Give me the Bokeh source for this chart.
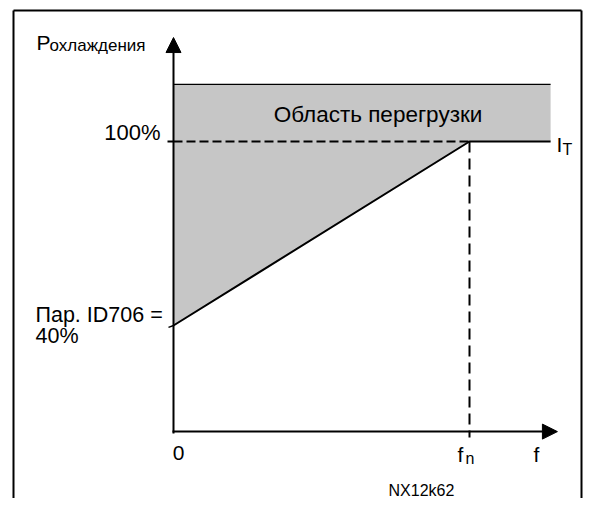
from bokeh.plotting import figure
from bokeh.models import Range1d, Arrow, NormalHead
from bokeh.core.properties import value
from bokeh.embed import file_html
from bokeh.resources import INLINE

# ---- data (schematic) ----
freq = [0.0, 1.0, 1.274]          # f in units of f_n (0, f_n, end of limit line)
cooling = [40, 100, 100]          # P_cooling in % (ID706 = 40 %, full at f_n)
overload_top = 118.6              # top of the overload area (schematic)
axis_base = 5.4                   # level of the f axis (schematic)
y_arrow_tip = 133.9
x_arrow_tip = 1.297

# ---- pixel helpers for decorative layout (reference picture pixels) ----
def X(px):
    return (px - 173.0) / 296.0

def Y(py):
    return (447.67 - py) / 3.0667

OFF = 0
W, H = 583, 498
p = figure(width=W, height=H, output_backend="svg", toolbar_location=None,
           x_range=Range1d(X(OFF), X(OFF + W)), y_range=Range1d(Y(OFF + H), Y(OFF)),
           x_axis_location=None, y_axis_location=None, min_border=0)
p.grid.visible = False
p.outline_line_color = None
p.background_fill_color = "white"
p.border_fill_color = "white"

FONT = value("Liberation Sans")

# frame (left, top, right)
p.line([X(13), X(13)], [Y(520), Y(10)], line_color="black", line_width=2)
p.line([X(13), X(581)], [Y(10), Y(10)], line_color="black", line_width=2)
p.line([X(581), X(581)], [Y(10), Y(520)], line_color="black", line_width=2)

# overload area
px = [freq[0], freq[0], freq[2], freq[2], freq[1]]
py = [cooling[0], overload_top, overload_top, cooling[2], cooling[1]]
p.patch(px, py, fill_color="#c6c6c6", line_color=None)
p.line([freq[0], freq[2]], [overload_top, overload_top], line_color="black", line_width=1.3)

# dashed guides
p.line([X(167), freq[0]], [cooling[1], cooling[1]], line_color="black", line_width=2)
p.line([freq[0], freq[1]], [cooling[1], cooling[1]], line_color="black",
       line_width=2, line_dash="9 4")
p.line([freq[1], freq[1]], [cooling[1], Y(437)], line_color="black",
       line_width=2, line_dash="11 6")
# small tick at 40 %
p.line([X(168), freq[0]], [cooling[0] - 0.6, cooling[0]], line_color="black", line_width=1.5)

# limit curve
p.line(freq, cooling, line_color="black", line_width=2)

# axes with arrows
p.add_layout(Arrow(end=NormalHead(size=15, fill_color="black", line_color="black"),
                   x_start=0, y_start=axis_base - 0.6, x_end=0, y_end=y_arrow_tip,
                   line_color="black", line_width=2))
p.add_layout(Arrow(end=NormalHead(size=15, fill_color="black", line_color="black"),
                   x_start=X(172), y_start=axis_base, x_end=x_arrow_tip, y_end=axis_base,
                   line_color="black", line_width=2))

# texts (positioned by their baseline in reference pixels)
def txt(x, base, t, size, align="left"):
    mid = base - 0.35 * size
    p.text(x=[x], y=[Y(mid)], text=[t], text_font=FONT, text_font_size=value(f"{size}px"),
           text_color="black", text_baseline="middle", text_align=align)

txt(X(36), 49, "P", 21)
txt(X(49), 50.5, "охлаждения", 17)
txt(X(377.5), 122, "Область перегрузки", 22.5, "center")
txt(X(160), 140, "100%", 22, "right")
txt(X(35), 322, "Пар. ID706 =", 21.5)
txt(X(35), 343, "40%", 21.5)
txt(X(178), 460, "0", 21, "center")
txt(X(457), 461, "f", 21)
txt(X(465), 463.5, "n", 16)
txt(X(536), 461, "f", 21, "center")
txt(X(556), 151, "I", 21)
txt(X(562), 154.5, "T", 16)
txt(X(388), 496, "NX12k62", 16)

open("out.html", "w").write(file_html(p, INLINE))
